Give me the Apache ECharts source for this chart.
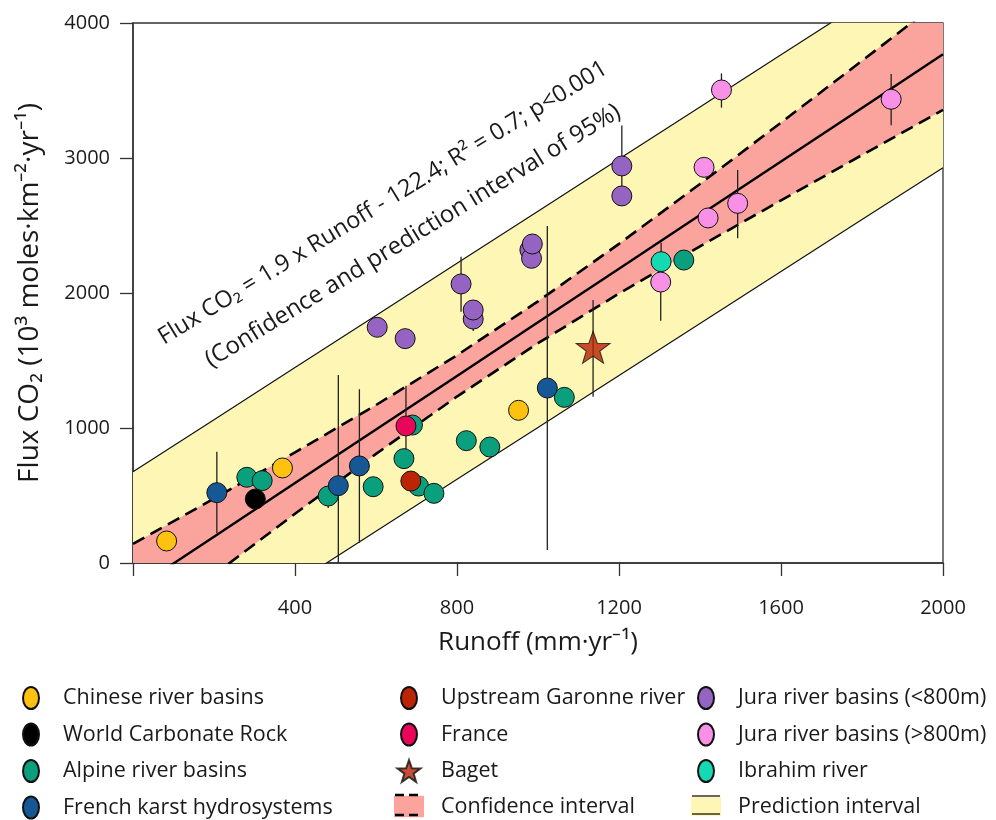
<!DOCTYPE html>
<html>
<head>
<meta charset="utf-8">
<script src="https://cdn.jsdelivr.net/npm/echarts@6/dist/echarts.min.js"></script>
<style>
html,body{margin:0;padding:0;background:#fff;}
#chart{width:996px;height:820px;}
</style>
</head>
<body>
<div id="chart"></div>
<script>
// ---- Data ----
const chinese = [[83,163],[369,704],[952,1131]];
const worldCarbonate = [[302,474]];
const alpine = [[281,635],[319,610],[482,496],[593,565],[669,773],[690,1022],[705,570],[743,516],[823,906],[881,859],[1065,1227],[1360,2244]];
const frenchKarst = [[207,521],[507,573],[559,719],[1023,1296]];
const garonne = [[686,607]];
const france = [[674,1015]];
const baget = [[1136,1598]];
const juraLow = [[603,1746],[672,1662],[810,2067],[840,1807],[840,1874],[980,2319],[984,2257],[986,2363],[1207,2941],[1207,2719]];
const ibrahim = [[1304,2232]];
const juraHigh = [[1303,2081],[1410,2931],[1420,2556],[1493,2664],[1453,3504],[1872,3435]];

// error bars: [runoff, low, high]
const errorBars = [[207,220,824],[507,0,1393],[559,150,1287],[674,780,1313],[1023,96,2496],[1136,1232,1948],[1304,2232,2373],[1303,1795,2081],[1207,2719,3240],[810,1862,2269],[840,1719,1874],[1493,2405,2911],[1453,3373,3627],[1872,3242,3622],[482,407,496],[984,2190,2257]];

// regression line and bands (values read along runoff)
const bandX     = [0,200,400,600,800,1000,1200,1400,1600,1800,2000];
const regLine   = [-202,195,592,989,1386,1783,2180,2577,2974,3371,3768];
const confUpper = [141,477,819,1170,1539,1938,2364,2808,3262,3720,4180];
const confLower = [-545,-87,365,808,1233,1628,1996,2346,2686,3022,3356];
const predUpper = [676,1062,1448,1834,2220,2606,2992,3378,3764,4150,4536];
const predLower = [-920,-535,-150,235,620,1004,1389,1774,2159,2544,2928];

const xTicks = [0,400,800,1200,1600,2000];
const yTicks = [0,1000,2000,3000,4000];

// ---- styling ----
const FONT = 'Open Sans';
const ELLIPSE = 'path://M8,0C12.4,0,16,4.9,16,11C16,17.1,12.4,22,8,22C3.6,22,0,17.1,0,11C0,4.9,3.6,0,8,0Z';
const STAR = 'path://M50,0L61.76,33.82L97.55,34.55L69.02,56.18L79.39,90.45L50,70L20.61,90.45L30.98,56.18L2.45,34.55L38.24,33.82Z';
const PINK = '#FBA39D', YELLOW = '#FEF6B4';

const pts = (arr) => arr.map(p => [p[0], p[1]]);
const along = (ys) => bandX.map((x, i) => [x, ys[i]]);

// Sutherland-Hodgman polygon clipping against the grid rectangle (pixel space)
function clipPolygon(poly, r) {
  const edges = [
    { inside: p => p[0] >= r.x, cut: (a, b) => { const t = (r.x - a[0]) / (b[0] - a[0]); return [r.x, a[1] + t * (b[1] - a[1])]; } },
    { inside: p => p[0] <= r.x + r.width, cut: (a, b) => { const X = r.x + r.width; const t = (X - a[0]) / (b[0] - a[0]); return [X, a[1] + t * (b[1] - a[1])]; } },
    { inside: p => p[1] >= r.y, cut: (a, b) => { const t = (r.y - a[1]) / (b[1] - a[1]); return [a[0] + t * (b[0] - a[0]), r.y]; } },
    { inside: p => p[1] <= r.y + r.height, cut: (a, b) => { const Y = r.y + r.height; const t = (Y - a[1]) / (b[1] - a[1]); return [a[0] + t * (b[0] - a[0]), Y]; } }
  ];
  let out = poly;
  edges.forEach(e => {
    const inp = out; out = [];
    for (let i = 0; i < inp.length; i++) {
      const cur = inp[i], prev = inp[(i + inp.length - 1) % inp.length];
      if (e.inside(cur)) {
        if (!e.inside(prev)) out.push(e.cut(prev, cur));
        out.push(cur);
      } else if (e.inside(prev)) {
        out.push(e.cut(prev, cur));
      }
    }
  });
  return out;
}

function bandSeries(name, upper, lower, color, z) {
  return {
    name, type: 'custom', z, silent: true, animation: false,
    itemStyle: { color },
    data: [[bandX[0], lower[0]]],
    renderItem: function (params, api) {
      const cs = params.coordSys;
      const top = bandX.map((x, i) => api.coord([x, upper[i]]));
      const bot = bandX.map((x, i) => api.coord([x, lower[i]])).reverse();
      const poly = clipPolygon(top.concat(bot), { x: cs.x, y: cs.y, width: cs.width, height: cs.height });
      return { type: 'polygon', shape: { points: poly }, style: { fill: color, stroke: null } };
    }
  };
}

function scatter(name, data, color, z) {
  return {
    name, type: 'scatter', data: pts(data), symbol: 'circle', symbolSize: 20, z: z || 10,
    itemStyle: { color, borderColor: '#111', borderWidth: 1, opacity: 1 },
    emphasis: { disabled: true }, animation: false
  };
}
function plainLine(data, style, z) {
  return { type: 'line', data, showSymbol: false, symbol: 'none', silent: true, z,
    lineStyle: style, animation: false, clip: true };
}

const chart = echarts.init(document.getElementById('chart'), null, { renderer: 'canvas' });

const legendText = { fontFamily: FONT, fontSize: 21.5, color: '#1a1a1a', lineHeight: 22 };
const ROT = 31.5 * Math.PI / 180;

const option = {
  backgroundColor: '#fff',
  animation: false,
  grid: { left: 133, right: 53, top: 23, bottom: 257, show: true, borderColor: '#333', borderWidth: 1.3, backgroundColor: 'transparent' },
  xAxis: {
    type: 'value', min: xTicks[0], max: xTicks[xTicks.length - 1], interval: 400,
    name: 'Runoff (mm·yr⁻¹)', nameLocation: 'middle', nameGap: 67,
    nameTextStyle: { fontFamily: FONT, fontSize: 26, color: '#1a1a1a' },
    axisLine: { lineStyle: { color: '#333', width: 1.5 } },
    axisTick: { inside: false, length: 13, lineStyle: { color: '#333', width: 1.3 } },
    axisLabel: { fontFamily: FONT, fontSize: 20, color: '#1a1a1a', margin: 35,
      formatter: v => (v === 0 ? '' : String(v)) },
    splitLine: { show: false }
  },
  yAxis: {
    type: 'value', min: yTicks[0], max: yTicks[yTicks.length - 1], interval: 1000,
    name: 'Flux CO₂ (10³ moles·km⁻²·yr⁻¹)', nameLocation: 'middle', nameGap: 89,
    nameTextStyle: { fontFamily: FONT, fontSize: 28, color: '#1a1a1a' },
    axisLine: { lineStyle: { color: '#333', width: 1.5 } },
    axisTick: { inside: false, length: 13, lineStyle: { color: '#333', width: 1.3 } },
    axisLabel: { fontFamily: FONT, fontSize: 20, color: '#1a1a1a', margin: 23, formatter: v => String(v) },
    splitLine: { show: false }
  },
  legend: [
    { orient: 'vertical', left: 22, top: 686, height: 160, itemWidth: 16, itemHeight: 22, itemGap: 12.5, padding: 0,
      symbolKeepAspect: true, selectedMode: false,
      textStyle: Object.assign({ padding: [0, 0, 0, 19] }, legendText),
      data: [
        { name: 'Chinese river basins', icon: ELLIPSE },
        { name: 'World Carbonate Rock', icon: ELLIPSE },
        { name: 'Alpine river basins', icon: ELLIPSE },
        { name: 'French karst hydrosystems', icon: ELLIPSE }
      ] },
    { orient: 'vertical', left: 394, top: 686, height: 160, itemWidth: 30, itemHeight: 22, itemGap: 12.5, padding: 0,
      symbolKeepAspect: true, selectedMode: false,
      textStyle: Object.assign({ padding: [0, 0, 0, 12] }, legendText),
      data: [
        { name: 'Upstream Garonne river', icon: ELLIPSE },
        { name: 'France', icon: ELLIPSE },
        { name: 'Baget', icon: STAR },
        { name: 'Confidence interval', icon: 'path://M0,0H28V20H0Z', itemStyle: { color: PINK, borderWidth: 0 } }
      ] },
    { orient: 'vertical', left: 691, top: 686, height: 160, itemWidth: 30, itemHeight: 22, itemGap: 12.5, padding: 0,
      symbolKeepAspect: true, selectedMode: false,
      textStyle: Object.assign({ padding: [0, 0, 0, 12] }, legendText),
      data: [
        { name: 'Jura river basins (<800m)', icon: ELLIPSE },
        { name: 'Jura river basins (>800m)', icon: ELLIPSE },
        { name: 'Ibrahim river', icon: ELLIPSE },
        { name: 'Prediction interval', icon: 'path://M0,0H28V18H0Z', itemStyle: { color: YELLOW, borderWidth: 0 } }
      ] }
  ],
  graphic: [
    { type: 'line', shape: { x1: 395, y1: 795, x2: 423, y2: 795 }, style: { stroke: '#000', lineWidth: 2.5, lineDash: [9, 5] }, z: 100 },
    { type: 'line', shape: { x1: 395, y1: 815, x2: 423, y2: 815 }, style: { stroke: '#000', lineWidth: 2.5, lineDash: [9, 5] }, z: 100 },
    { type: 'line', shape: { x1: 692, y1: 796, x2: 720, y2: 796 }, style: { stroke: '#000', lineWidth: 1.2 }, z: 100 },
    { type: 'line', shape: { x1: 692, y1: 814, x2: 720, y2: 814 }, style: { stroke: '#000', lineWidth: 1.2 }, z: 100 },
    { type: 'text', x: 383, y: 203, rotation: ROT, z: 100,
      style: { text: 'Flux CO₂ = 1.9 x Runoff - 122.4; R² = 0.7; p<0.001', fontFamily: FONT, fontSize: 23.5,
        fill: '#1a1a1a', align: 'center', verticalAlign: 'middle' } },
    { type: 'text', x: 413, y: 236, rotation: ROT, z: 100,
      style: { text: '(Confidence and prediction interval of 95%)', fontFamily: FONT, fontSize: 24,
        fill: '#1a1a1a', align: 'center', verticalAlign: 'middle' } }
  ],
  series: [
    bandSeries('Prediction interval', predUpper, predLower, YELLOW, 1),
    bandSeries('Confidence interval', confUpper, confLower, PINK, 2),
    plainLine(along(predUpper), { color: '#111', width: 1.2 }, 3),
    plainLine(along(predLower), { color: '#111', width: 1.2 }, 3),
    plainLine(along(confUpper), { color: '#000', width: 2.6, type: [13, 7] }, 3),
    plainLine(along(confLower), { color: '#000', width: 2.6, type: [13, 7] }, 3),
    plainLine(along(regLine), { color: '#000', width: 2.4 }, 3),
    { type: 'custom', data: errorBars, z: 4, silent: true, animation: false,
      encode: { x: 0, y: [1, 2] },
      renderItem: function (params, api) {
        const x = api.value(0), lo = api.value(1), hi = api.value(2);
        const p1 = api.coord([x, lo]), p2 = api.coord([x, hi]);
        return { type: 'line', shape: { x1: p1[0], y1: p1[1], x2: p2[0], y2: p2[1] },
          style: { stroke: '#222', lineWidth: 1.3 } };
      } },
    scatter('Alpine river basins', alpine, '#0BA07D', 10),
    scatter('Chinese river basins', chinese, '#FDC210', 11),
    scatter('World Carbonate Rock', worldCarbonate, '#000000', 11),
    scatter('French karst hydrosystems', frenchKarst, '#165796', 12),
    scatter('Upstream Garonne river', garonne, '#BB2506', 13),
    scatter('France', france, '#E8055A', 13),
    scatter('Jura river basins (<800m)', juraLow, '#9564C2', 13),
    scatter('Ibrahim river', ibrahim, '#14D9B3', 13),
    scatter('Jura river basins (>800m)', juraHigh, '#F890E8', 14),
    { name: 'Baget', type: 'scatter', data: pts(baget), symbol: STAR, symbolSize: [34, 32], symbolKeepAspect: false, z: 15,
      itemStyle: { color: '#B52304', borderColor: '#111', borderWidth: 1 }, emphasis: { disabled: true }, animation: false }
  ]
};
chart.setOption(option);
</script>
</body>
</html>
